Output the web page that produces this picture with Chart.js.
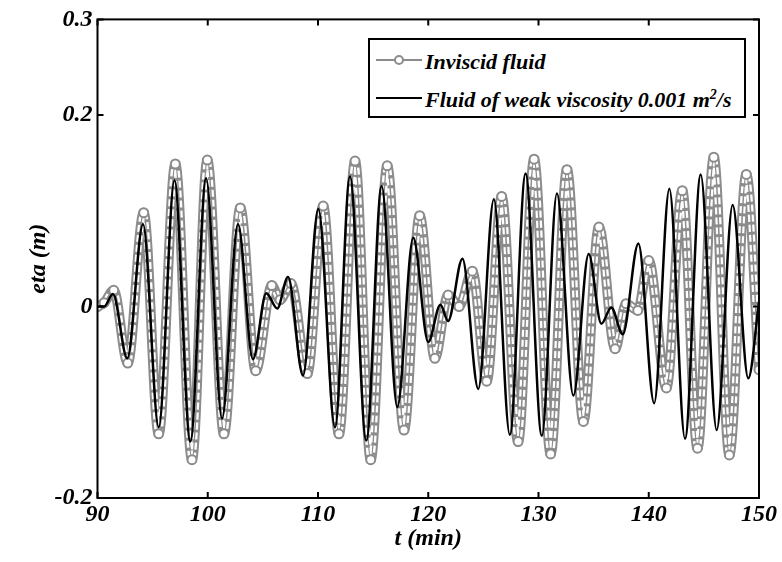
<!DOCTYPE html>
<html>
<head>
<meta charset="utf-8">
<script src="https://cdn.jsdelivr.net/npm/chart.js@4.4.1/dist/chart.umd.min.js"></script>
<style>
  html, body { margin: 0; padding: 0; background: #fff; }
  #wrap { position: relative; width: 782px; height: 562px; }
  #legend {
    position: absolute; left: 368px; top: 38px; width: 374px; height: 76px;
    border: 2px solid #000; background: #fff;
    font-family: "Liberation Serif", serif; font-weight: bold; font-style: italic;
    font-size: 22px; color: #000;
  }
  #legend .row { position: absolute; left: 0; white-space: nowrap; }
  #legend svg { position: absolute; left: 6px; }
  #legend span { position: absolute; left: 55px; }
  sup { font-size: 14px; line-height: 0; }
</style>
</head>
<body>
<div id="wrap">
  <canvas id="etaChart" width="782" height="562"></canvas>
  <div id="legend">
    <div class="row" style="top:5px">
      <svg width="46" height="16" style="top:7px"><line x1="0" y1="8" x2="46" y2="8" stroke="#8c8c8c" stroke-width="2"/><circle cx="23" cy="8" r="4" fill="#fff" stroke="#8c8c8c" stroke-width="2"/></svg>
      <span style="top:4px">Inviscid fluid</span>
    </div>
    <div class="row" style="top:43px">
      <svg width="46" height="16" style="top:7px"><line x1="0" y1="8" x2="46" y2="8" stroke="#000" stroke-width="2"/></svg>
      <span style="top:4px">Fluid of weak viscosity 0.001 m<sup>2</sup>/s</span>
    </div>
  </div>
</div>
<script>
// time axis (min) and free surface elevation (m)
const inviscidT = [90.0, 90.6, 91.47, 92.74, 94.19, 95.55, 97.06, 98.57, 99.96, 101.47, 102.95, 104.35,
    105.81, 106.55, 107.55, 109.03, 110.47, 111.9, 113.36, 114.78, 116.28, 117.8, 119.22, 120.6,
    121.8, 122.8, 124.0, 125.3, 126.66, 128.15, 129.6, 131.1, 132.58, 134.07, 135.48, 136.95,
    137.94, 139.0, 140.0, 141.6, 143.04, 144.42, 145.9, 147.31, 148.85, 150.0];
const inviscidEta = [0.0, 0.004, 0.017, -0.059, 0.098, -0.133, 0.149, -0.160, 0.153, -0.133, 0.103, -0.067,
    0.022, 0.007, 0.024, -0.070, 0.105, -0.133, 0.152, -0.160, 0.147, -0.129, 0.095, -0.054,
    0.012, 0.0, 0.037, -0.078, 0.115, -0.141, 0.154, -0.154, 0.143, -0.120, 0.083, -0.044,
    0.003, -0.004, 0.048, -0.085, 0.121, -0.148, 0.156, -0.155, 0.138, -0.066];

const viscousT = [90.0, 90.6, 91.4, 92.7, 94.13, 95.55, 96.98, 98.42, 99.85, 101.29, 102.74, 104.1,
    105.31, 106.3, 107.28, 108.64, 110.03, 111.54, 112.9, 114.38, 115.77, 117.19, 118.64, 120.0,
    121.1, 121.8, 123.1, 124.54, 125.95, 127.4, 128.83, 130.3, 131.67, 133.16, 134.55, 135.7,
    136.6, 137.64, 139.06, 140.49, 141.87, 143.29, 144.71, 146.16, 147.61, 149.03, 150.0];
const viscousEta = [0.0, 0.0, 0.013, -0.054, 0.086, -0.126, 0.132, -0.141, 0.134, -0.117, 0.086, -0.055,
    0.014, -0.002, 0.031, -0.072, 0.102, -0.126, 0.136, -0.140, 0.126, -0.105, 0.072, -0.037,
    0.002, -0.015, 0.050, -0.086, 0.112, -0.134, 0.139, -0.135, 0.118, -0.093, 0.055, -0.018,
    -0.001, -0.029, 0.066, -0.101, 0.123, -0.138, 0.138, -0.129, 0.106, -0.075, 0.005];

const xTicks = [90, 100, 110, 120, 130, 140, 150];
const yTicks = [-0.2, 0, 0.2, 0.3];

const inviscidPts = inviscidT.map((t, i) => ({ x: t, y: inviscidEta[i] }));
const viscousPts = viscousT.map((t, i) => ({ x: t, y: viscousEta[i] }));

const grey = '#8c8c8c';
const font = { family: 'Liberation Serif', size: 24, style: 'italic', weight: 'bold' };

// box around the plot with inward ticks, like the matlab figure
const framePlugin = {
    id: 'frame',
    afterDatasetsDraw(chart) {
        const { ctx, chartArea: a, scales: { x, y } } = chart;
        ctx.save();
        ctx.strokeStyle = '#000';
        ctx.lineWidth = 2;
        ctx.strokeRect(a.left, a.top, a.right - a.left, a.bottom - a.top);
        ctx.beginPath();
        x.ticks.forEach(t => {
            const px = x.getPixelForValue(t.value);
            ctx.moveTo(px, a.bottom); ctx.lineTo(px, a.bottom - 6);
            ctx.moveTo(px, a.top); ctx.lineTo(px, a.top + 6);
        });
        y.ticks.forEach(t => {
            const py = y.getPixelForValue(t.value);
            ctx.moveTo(a.left, py); ctx.lineTo(a.left + 6, py);
            ctx.moveTo(a.right, py); ctx.lineTo(a.right - 6, py);
        });
        ctx.stroke();
        ctx.restore();
    }
};

const ctx = document.getElementById('etaChart').getContext('2d');
const etaChart = new Chart(ctx, {
    type: 'line',
    data: {
        datasets: [
            {   // viscous case on top
                label: 'Fluid of weak viscosity 0.001 m²/s',
                data: viscousPts,
                borderColor: '#000',
                borderWidth: 2.5,
                pointRadius: 0,
                cubicInterpolationMode: 'monotone',
                order: 0
            },
            {
                label: 'Inviscid fluid',
                data: inviscidPts,
                borderColor: grey,
                borderWidth: 1.5,
                pointRadius: 4.5,
                pointBorderWidth: 2,
                pointBorderColor: grey,
                pointBackgroundColor: '#fff',
                cubicInterpolationMode: 'monotone',
                order: 1
            },
            {   // inside of the dense marker chain (dashes leave ring edges)
                data: inviscidPts,
                borderColor: '#fff',
                borderWidth: 6,
                borderDash: [7, 3],
                pointRadius: 0,
                cubicInterpolationMode: 'monotone',
                clip: 0,
                order: 2
            },
            {   // outside of the marker chain
                data: inviscidPts,
                borderColor: grey,
                borderWidth: 10,
                pointRadius: 0,
                cubicInterpolationMode: 'monotone',
                clip: 0,
                order: 3
            }
        ]
    },
    options: {
        responsive: false,
        animation: false,
        layout: { padding: { top: 18, right: 23, left: 0, bottom: 0 } },
        plugins: {
            legend: { display: false },
            tooltip: { enabled: false }
        },
        scales: {
            x: {
                type: 'linear',
                min: 90,
                max: 150,
                grid: { display: false, drawTicks: false },
                border: { display: false },
                afterBuildTicks: (scale) => { scale.ticks = xTicks.map(v => ({ value: v })); },
                afterFit: (scale) => { scale.height = 64; },
                ticks: { color: '#000', font: font, padding: 2, maxRotation: 0 },
                title: { display: true, text: 't (min)', color: '#000', font: font, padding: { top: 0, bottom: 9 } }
            },
            y: {
                type: 'linear',
                min: -0.2,
                max: 0.3,
                grid: { display: false, drawTicks: false },
                border: { display: false },
                afterBuildTicks: (scale) => { scale.ticks = yTicks.map(v => ({ value: v })); },
                afterFit: (scale) => { scale.width = 97.5; },
                ticks: {
                    color: '#000', font: font, padding: 5,
                    callback: (v) => (v === 0 ? '0' : v.toFixed(1))
                },
                title: { display: true, text: 'eta (m)', color: '#000', font: font, padding: { top: 24, bottom: 0 } }
            }
        }
    },
    plugins: [framePlugin]
});
</script>
</body>
</html>
